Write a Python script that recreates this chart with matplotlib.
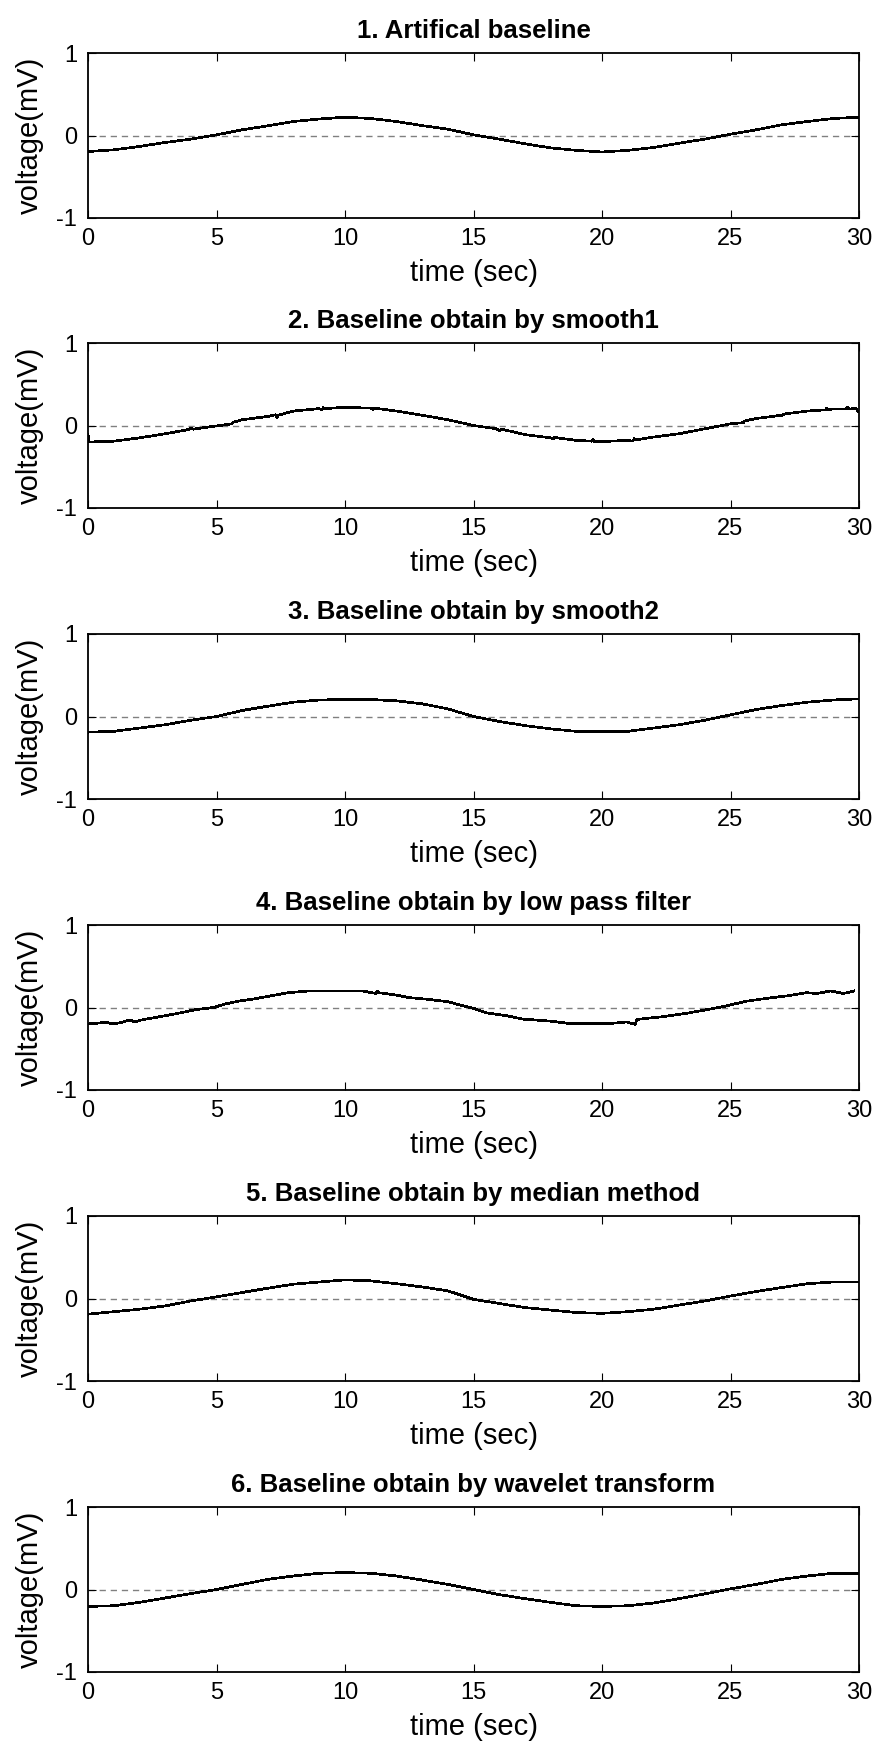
import matplotlib
matplotlib.use("Agg")
import matplotlib.pyplot as plt

plt.rcParams["font.family"] = ["Liberation Sans", "DejaVu Sans"]
plt.rcParams["axes.unicode_minus"] = False

# ---------------------------------------------------------------------------
# Data: baseline estimates (mV) versus time (s)
# ---------------------------------------------------------------------------
titles = [
    "1. Artifical baseline",
    "2. Baseline obtain by smooth1",
    "3. Baseline obtain by smooth2",
    "4. Baseline obtain by low pass filter",
    "5. Baseline obtain by median method",
    "6. Baseline obtain by wavelet transform",
]

t_sec = list(range(31))

artificial_mv = [-0.194, -0.174, -0.133, -0.085, -0.044, 0.008, 0.069, 0.117,
                 0.170, 0.200, 0.222, 0.206, 0.170, 0.120, 0.077, 0.008,
                 -0.044, -0.100, -0.150, -0.180, -0.200, -0.180, -0.145,
                 -0.093, -0.044, 0.016, 0.069, 0.130, 0.170, 0.206, 0.222]

smooth1_t = [0, 0.05, 1, 2, 3, 3.9, 4.0, 4.1, 5, 5.6, 5.65, 6, 7, 7.3, 7.35,
             7.4, 8, 9, 9.1, 9.15, 9.2, 10, 11, 11.1, 11.15, 12, 13, 14, 15,
             15.9, 16.0, 16.1, 17, 18, 18.1, 18.15, 19, 19.6, 19.65, 19.7, 20,
             21, 21.2, 21.25, 21.3, 22, 23, 24, 25, 25.5, 25.55, 26, 27, 27.1,
             28, 28.7, 28.75, 28.8, 29, 29.5, 29.55, 29.6, 29.9, 29.95]
smooth1_mv = [-0.11, -0.20, -0.19, -0.15, -0.10, -0.05, -0.03, -0.045, -0.005,
              0.02, 0.04, 0.07, 0.11, 0.13, 0.10, 0.125, 0.175, 0.205, 0.19,
              0.215, 0.205, 0.22, 0.21, 0.195, 0.21, 0.175, 0.125, 0.07, 0.0,
              -0.04, -0.065, -0.045, -0.11, -0.15, -0.165, -0.145, -0.18,
              -0.19, -0.165, -0.195, -0.195, -0.18, -0.19, -0.16, -0.175,
              -0.14, -0.10, -0.04, 0.02, 0.035, 0.055, 0.085, 0.125, 0.14,
              0.175, 0.19, 0.21, 0.195, 0.20, 0.20, 0.225, 0.20, 0.205, 0.17]

smooth2_mv = [-0.19, -0.18, -0.14, -0.10, -0.045, 0.0, 0.073, 0.125, 0.174,
              0.20, 0.206, 0.206, 0.19, 0.154, 0.093, 0.0, -0.06, -0.11,
              -0.15, -0.18, -0.186, -0.18, -0.14, -0.10, -0.045, 0.02, 0.085,
              0.133, 0.174, 0.20, 0.214]

lowpass_t = [0, 0.7, 1.0, 1.3, 1.65, 1.8, 2.1, 2.9, 3.6, 4.2, 4.9, 5.3, 5.9,
             6.4, 7.0, 7.8, 8.6, 10.7, 11.2, 11.25, 11.3, 12, 12.5, 13.2, 14,
             14.6, 15.0, 15.5, 16.3, 16.9, 18.0, 18.75, 20.3, 20.95, 21.3,
             21.35, 22.4, 23.3, 24.1, 24.7, 25.6, 26.5, 27.3, 27.96, 28.35,
             28.9, 29.4, 29.8]
lowpass_mv = [-0.20, -0.18, -0.20, -0.18, -0.15, -0.175, -0.15, -0.105,
              -0.065, -0.025, 0.0, 0.04, 0.08, 0.10, 0.135, 0.18, 0.20, 0.20,
              0.17, 0.20, 0.18, 0.15, 0.12, 0.10, 0.07, 0.02, -0.01, -0.065,
              -0.10, -0.14, -0.165, -0.195, -0.195, -0.175, -0.205, -0.145,
              -0.11, -0.07, -0.025, 0.01, 0.075, 0.115, 0.145, 0.18, 0.17,
              0.20, 0.17, 0.20]

median_mv = [-0.19, -0.16, -0.13, -0.09, -0.03, 0.02, 0.073, 0.125, 0.174,
             0.20, 0.226, 0.214, 0.18, 0.14, 0.093, -0.01, -0.06, -0.11,
             -0.14, -0.17, -0.18, -0.16, -0.13, -0.08, -0.03, 0.03, 0.085,
             0.133, 0.18, 0.20, 0.20]

wavelet_mv = [-0.205, -0.197, -0.156, -0.103, -0.05, 0.0, 0.062, 0.123,
              0.164, 0.197, 0.205, 0.197, 0.164, 0.115, 0.062, 0.0, -0.062,
              -0.111, -0.156, -0.197, -0.205, -0.197, -0.164, -0.111, -0.053,
              0.008, 0.062, 0.123, 0.164, 0.197, 0.197]

series = [
    (t_sec, artificial_mv),
    (smooth1_t, smooth1_mv),
    (t_sec, smooth2_mv),
    (lowpass_t, lowpass_mv),
    (t_sec, median_mv),
    (t_sec, wavelet_mv),
]

x_ticks = [0, 5, 10, 15, 20, 25, 30]
y_ticks = [-1, 0, 1]

# ---------------------------------------------------------------------------
# Figure: six stacked panels
# ---------------------------------------------------------------------------
W, H = 877, 1745
fig = plt.figure(figsize=(W / 100, H / 100), dpi=100)

panel_tops = [53, 343, 634, 925, 1216, 1507]
panel_h = 165
left, right = 88, 859

for top, title, (tt, vv) in zip(panel_tops, titles, series):
    ax = fig.add_axes([left / W, 1 - (top + panel_h) / H,
                       (right - left) / W, panel_h / H])
    ax.axhline(0, color="0.5", lw=1.0, ls=(0, (4.5, 3.5)), zorder=1)
    ax.plot(tt, vv, color="black", lw=1.2, antialiased=False, zorder=2)

    ax.set_xlim(0, 30)
    ax.set_ylim(-1, 1)
    ax.set_xticks(x_ticks)
    ax.set_yticks(y_ticks)
    ax.tick_params(direction="in", top=True, right=True, length=6,
                   width=0.8, labelsize=17, colors="black")
    ax.tick_params(axis="x", pad=7.5)
    ax.tick_params(axis="y", pad=8)
    for sp in ax.spines.values():
        sp.set_linewidth(1.3)

    ax.set_title(title, fontsize=18.5, fontweight="bold", pad=11)
    ax.set_xlabel("time (sec)", fontsize=21, labelpad=6)
    ax.set_ylabel("voltage(mV)", fontsize=21, labelpad=9)

fig.savefig("out.png", dpi=100)
